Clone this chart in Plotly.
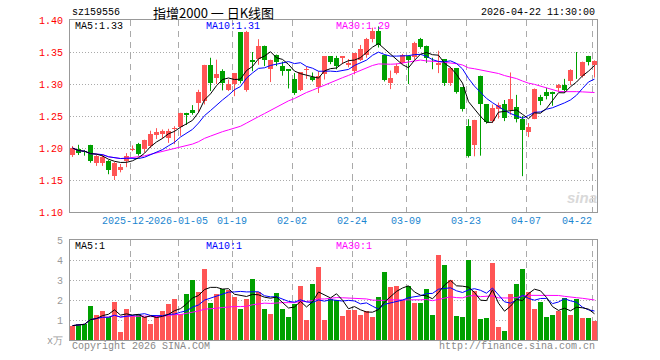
import plotly.graph_objects as go
import pandas as pd

# ---------------- data ----------------
opens = [1.189, 1.199, 1.196, 1.204, 1.177, 1.177, 1.180, 1.156, 1.166, 1.179,
         1.197, 1.207, 1.199, 1.203, 1.220, 1.222, 1.216, 1.230, 1.233, 1.254,
         1.260, 1.271, 1.273, 1.329, 1.310, 1.321, 1.291, 1.300, 1.381, 1.290,
         1.338, 1.339, 1.360, 1.324, 1.346, 1.328, 1.323, 1.308, 1.290, 1.322,
         1.311, 1.296, 1.316, 1.343, 1.340, 1.341, 1.330, 1.320, 1.338, 1.346,
         1.370, 1.383, 1.346, 1.302, 1.317, 1.333, 1.344, 1.342, 1.371, 1.360,
         1.330, 1.329, 1.339, 1.301, 1.325, 1.295, 1.235, 1.204, 1.313, 1.268,
         1.242, 1.261, 1.268, 1.260, 1.264, 1.245, 1.225, 1.245, 1.280, 1.287,
         1.287, 1.294, 1.299, 1.304, 1.319, 1.313, 1.343, 1.329]
highs = [1.203, 1.205, 1.197, 1.205, 1.189, 1.190, 1.181, 1.178, 1.175, 1.192,
         1.204, 1.208, 1.213, 1.227, 1.231, 1.229, 1.230, 1.234, 1.255, 1.255,
         1.267, 1.291, 1.330, 1.341, 1.338, 1.323, 1.307, 1.317, 1.381, 1.383,
         1.350, 1.370, 1.360, 1.338, 1.346, 1.335, 1.323, 1.317, 1.318, 1.327,
         1.318, 1.320, 1.343, 1.343, 1.344, 1.343, 1.339, 1.348, 1.361, 1.372,
         1.388, 1.390, 1.346, 1.321, 1.332, 1.347, 1.345, 1.366, 1.372, 1.360,
         1.341, 1.352, 1.339, 1.327, 1.325, 1.295, 1.245, 1.244, 1.313, 1.268,
         1.268, 1.271, 1.275, 1.318, 1.283, 1.250, 1.239, 1.293, 1.283, 1.294,
         1.288, 1.300, 1.308, 1.323, 1.350, 1.335, 1.344, 1.337]
lows = [1.186, 1.189, 1.188, 1.177, 1.172, 1.172, 1.159, 1.150, 1.162, 1.170,
        1.195, 1.188, 1.193, 1.200, 1.214, 1.215, 1.208, 1.206, 1.219, 1.236,
        1.252, 1.255, 1.268, 1.289, 1.300, 1.290, 1.289, 1.281, 1.301, 1.288,
        1.320, 1.330, 1.328, 1.303, 1.328, 1.313, 1.293, 1.283, 1.289, 1.308,
        1.304, 1.286, 1.307, 1.331, 1.323, 1.331, 1.326, 1.315, 1.336, 1.341,
        1.365, 1.357, 1.304, 1.292, 1.315, 1.331, 1.300, 1.338, 1.355, 1.333,
        1.323, 1.317, 1.297, 1.297, 1.285, 1.257, 1.185, 1.187, 1.188, 1.238,
        1.239, 1.246, 1.242, 1.252, 1.240, 1.156, 1.217, 1.245, 1.267, 1.276,
        1.266, 1.288, 1.286, 1.298, 1.308, 1.310, 1.329, 1.310]
closes = [1.200, 1.192, 1.193, 1.180, 1.187, 1.186, 1.166, 1.177, 1.171, 1.188,
          1.198, 1.190, 1.212, 1.222, 1.225, 1.226, 1.226, 1.231, 1.254, 1.251,
          1.254, 1.288, 1.329, 1.301, 1.315, 1.302, 1.300, 1.317, 1.304, 1.382,
          1.334, 1.360, 1.338, 1.338, 1.335, 1.321, 1.321, 1.286, 1.318, 1.323,
          1.307, 1.312, 1.343, 1.335, 1.328, 1.343, 1.333, 1.348, 1.354, 1.370,
          1.383, 1.361, 1.306, 1.310, 1.328, 1.346, 1.337, 1.364, 1.358, 1.341,
          1.329, 1.333, 1.301, 1.325, 1.287, 1.261, 1.188, 1.243, 1.268, 1.240,
          1.262, 1.267, 1.247, 1.276, 1.245, 1.228, 1.233, 1.292, 1.274, 1.282,
          1.285, 1.299, 1.291, 1.322, 1.318, 1.334, 1.335, 1.336]
volumes = [0.72, 0.82, 0.82, 1.72, 1.27, 1.47, 1.15, 1.92, 0.42, 1.57,
           1.18, 1.32, 1.15, 0.82, 1.15, 1.47, 1.82, 2.07, 1.32, 2.32,
           2.98, 2.42, 3.57, 1.87, 2.32, 2.55, 2.52, 2.17, 1.57, 2.07,
           3.07, 2.42, 1.57, 1.32, 2.37, 1.57, 1.17, 1.82, 2.72, 0.98,
           2.82, 3.67, 0.98, 2.07, 2.02, 1.22, 1.52, 1.52, 1.27, 1.47,
           1.17, 2.17, 3.42, 2.67, 2.72, 2.02, 2.72, 1.87, 1.87, 2.57,
           1.27, 4.27, 3.77, 3.02, 1.22, 1.17, 4.02, 2.47, 1.07, 1.12,
           3.87, 0.67, 0.47, 2.32, 2.82, 3.57, 2.42, 1.57, 1.92, 1.17,
           1.27, 1.47, 2.12, 1.27, 2.07, 1.12, 1.12, 0.97]
date_tick_index = [10, 18, 27, 37, 47, 56, 66, 76, 87]
# first label is partly hidden by the next one in the reference: only "2025-12-" shows
date_tick_labels = ["2025-12-", "2026-01-05", "01-19", "02-02", "02-24",
                    "03-09", "03-23", "04-07", "04-22"]
price_ticks = [1.10, 1.15, 1.20, 1.25, 1.30, 1.35, 1.40]
volume_ticks = [0, 1, 2, 3, 4, 5]
volume_tick_labels = ["x万", "1", "2", "3", "4", "5"]
symbol = "sz159556"
title_text = "指增2000 一 日K线图"
timestamp = "2026-04-22 11:30:00"

# ---------------- derived ----------------
n = len(closes)
idx = list(range(n))
cs = pd.Series(closes)
vs = pd.Series(volumes)
ma = {w: cs.rolling(w, min_periods=1).mean() for w in (5, 10, 30)}
vma = {w: vs.rolling(w, min_periods=1).mean() for w in (5, 10, 30)}

RED = "#ff5555"
GREEN = "#00a000"
MONO = "Liberation Mono, DejaVu Sans Mono, monospace"

up = [c >= o for o, c in zip(opens, closes)]

W, H = 660, 360
PL, PR, PT, PB = 70, 597, 20, 340


def px_x(px):  # page pixel -> paper x
    return (px - PL) / (PR - PL)


def px_y(py):  # page pixel -> paper y
    return (PB - py) / (PB - PT)


fig = go.Figure()

# wicks
for flag, col in ((True, RED), (False, GREEN)):
    wx, wy = [], []
    for i in idx:
        if up[i] == flag:
            wx += [i, i, None]
            wy += [lows[i], highs[i], None]
    fig.add_trace(go.Scatter(x=wx, y=wy, mode="lines", line=dict(color=col, width=1),
                             hoverinfo="skip", showlegend=False, xaxis="x", yaxis="y"))

# bodies
body_base = [min(o, c) for o, c in zip(opens, closes)]
body_h = [max(abs(c - o), 0.0012) for o, c in zip(opens, closes)]
fig.add_trace(go.Bar(x=idx, y=body_h, base=body_base, width=0.833,
                     marker=dict(color=[RED if u else GREEN for u in up], line=dict(width=0)),
                     showlegend=False, xaxis="x", yaxis="y"))

# price MAs
for w, col in ((30, "#ff00ff"), (10, "#0000ff"), (5, "#000000")):
    fig.add_trace(go.Scatter(x=idx, y=ma[w], mode="lines", line=dict(color=col, width=1),
                             showlegend=False, xaxis="x", yaxis="y"))

# volume bars
fig.add_trace(go.Bar(x=idx, y=volumes, width=0.833,
                     marker=dict(color=[RED if u else GREEN for u in up], line=dict(width=0)),
                     showlegend=False, xaxis="x2", yaxis="y2"))
for w, col in ((30, "#ff00ff"), (10, "#0000ff"), (5, "#000000")):
    fig.add_trace(go.Scatter(x=idx, y=vma[w], mode="lines", line=dict(color=col, width=1),
                             showlegend=False, xaxis="x2", yaxis="y2"))

grid_x = [i - 0.4167 for i in date_tick_index]
xrange_ = [-0.4167, n - 1 + 0.4167]

xcommon = dict(range=xrange_, tickmode="array", tickvals=grid_x, showticklabels=False,
               showgrid=True, gridcolor="#aaaaaa", griddash="6px,5px", gridwidth=1,
               showline=True, mirror=True, linecolor="#999999", linewidth=1,
               zeroline=False, ticks="", fixedrange=True)

fig.update_layout(
    width=W, height=H,
    margin=dict(l=PL, r=W - PR, t=PT, b=H - PB, autoexpand=False),
    paper_bgcolor="white", plot_bgcolor="white",
    barmode="overlay", bargap=0,
    xaxis=dict(domain=[0, 1], anchor="y", **xcommon),
    xaxis2=dict(domain=[0, 1], anchor="y2", **xcommon),
    yaxis=dict(domain=[px_y(212), 1.0], anchor="x", range=[1.10, 1.40],
               tickmode="array", tickvals=price_ticks,
               ticktext=[f"{v:.2f}" for v in price_ticks],
               tickfont=dict(family=MONO, size=10, color="#ff0000"),
               showgrid=True, gridcolor="#aaaaaa", griddash="1px,2px",
               showline=True, mirror=True, linecolor="#999999", linewidth=1,
               zeroline=False, ticks="", ticklabelstandoff=4, fixedrange=True),
    yaxis2=dict(domain=[0, px_y(240)], anchor="x2", range=[0, 5],
                tickmode="array", tickvals=volume_ticks, ticktext=volume_tick_labels,
                tickfont=dict(family=MONO, size=10, color="#999999"),
                showgrid=True, gridcolor="#aaaaaa", griddash="1px,2px",
                showline=True, mirror=True, linecolor="#999999", linewidth=1,
                zeroline=False, ticks="", ticklabelstandoff=4, fixedrange=True),
    hovermode=False,
)

ann = []


def text(px, py, s, color="#000000", size=10, anchor="left", family=MONO, **kw):
    ann.append(dict(x=px_x(px), y=px_y(py), xref="paper", yref="paper", text=s,
                    showarrow=False, xanchor=anchor, yanchor="middle",
                    font=dict(family=family, size=size, color=color), **kw))


text(70, 13, symbol)
text(213, 12, title_text, size=13, anchor="center",
     family="Noto Sans CJK SC, sans-serif")
text(597, 13, timestamp, anchor="right")

text(73, 26, f"MA5:{ma[5].iloc[-1]:.2f}")
text(204, 26, f"MA10:{ma[10].iloc[-1]:.2f}", color="#0000ff")
text(334, 26, f"MA30:{ma[30].iloc[-1]:.2f}", color="#ff00ff")

text(73, 246, "MA5:1")
text(204, 246, "MA10:1", color="#0000ff")
text(334, 246, "MA30:1", color="#ff00ff")

text(70, 346, "Copyright 2026 SINA.COM", color="#888888")
text(597, 346, "http://finance.sina.com.cn", color="#888888", anchor="right")

text(582, 197, "<b><i>sina</i></b>", color="#d9d9d9", size=15, anchor="center",
     family="Arial, Liberation Sans, sans-serif")

# date labels under the main panel
for k, (i, lab) in enumerate(zip(date_tick_index, date_tick_labels)):
    first = k == 0
    last = k == len(date_tick_index) - 1
    if first:
        xpos, xa = i - 0.4167 - 5.0, "left"       # "2025-12-" starts 30px left of its grid line
    elif last:
        xpos, xa = i - 0.1, "right"
    else:
        xpos, xa = i - 0.4167, "center"
    ann.append(dict(x=xpos, y=px_y(221), xref="x", yref="paper", text=lab,
                    showarrow=False, xanchor=xa, yanchor="middle",
                    font=dict(family=MONO, size=10, color="#1a86d0")))

fig.update_layout(annotations=ann)
fig.write_html("out.html",
               config={"displayModeBar": False, "staticPlot": True},
               post_script="document.body.style.margin='0';"
                           "document.body.style.overflow='hidden';")
